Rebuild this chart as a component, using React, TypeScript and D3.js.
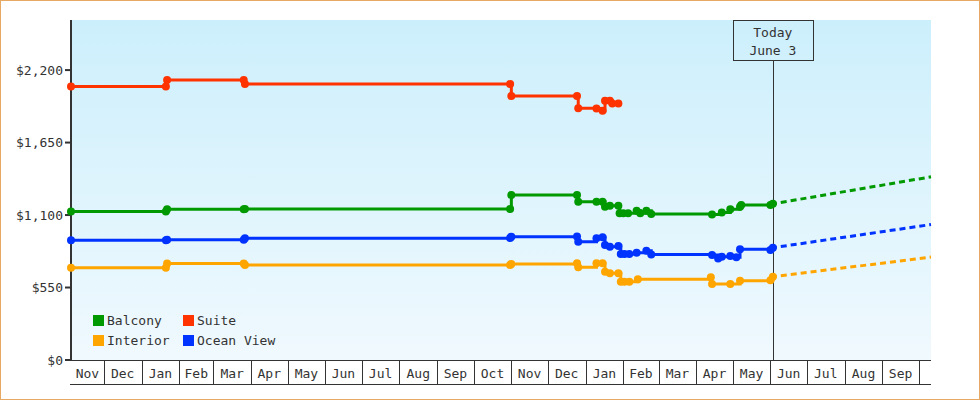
import React from 'react';
import * as d3 from 'd3';

const START = '2022-11-04';
const END = '2024-10-11';
const TODAY = '2024-06-03';
const TODAY_LABEL = ['Today', 'June 3'];
const Y_TICKS = [0, 550, 1100, 1650, 2200];
const Y_MAX = 2580;

const SERIES_NAMES = ['Balcony', 'Suite', 'Interior', 'Ocean View'];
const SERIES_COLORS = ['#009900', '#ff3300', '#ffa500', '#0033ff'];

const suite: [string, number][] = [
  ['2022-11-04', 2075], ['2023-01-21', 2075], ['2023-01-22', 2124], ['2023-03-26', 2124],
  ['2023-03-27', 2094], ['2023-10-31', 2094], ['2023-11-01', 2003], ['2023-12-25', 2003],
  ['2023-12-26', 1910], ['2024-01-10', 1909], ['2024-01-15', 1891], ['2024-01-17', 1967],
  ['2024-01-21', 1967], ['2024-01-23', 1947], ['2024-01-28', 1947],
];

const balcony: [string, number][] = [
  ['2022-11-04', 1127], ['2023-01-21', 1127], ['2023-01-22', 1143], ['2023-03-26', 1143],
  ['2023-03-27', 1145], ['2023-10-31', 1145], ['2023-11-01', 1252], ['2023-12-25', 1252],
  ['2023-12-26', 1201], ['2024-01-10', 1201], ['2024-01-15', 1201], ['2024-01-17', 1163],
  ['2024-01-21', 1171], ['2024-01-28', 1171], ['2024-01-29', 1113], ['2024-02-01', 1113],
  ['2024-02-05', 1113], ['2024-02-12', 1133], ['2024-02-15', 1113], ['2024-02-20', 1133],
  ['2024-02-24', 1108], ['2024-04-14', 1105], ['2024-04-22', 1120], ['2024-04-29', 1143],
  ['2024-05-07', 1163], ['2024-05-08', 1176], ['2024-06-01', 1176], ['2024-06-03', 1185],
];

const interior: [string, number][] = [
  ['2022-11-04', 700], ['2023-01-21', 700], ['2023-01-22', 733], ['2023-03-26', 733],
  ['2023-03-27', 721], ['2023-10-31', 721], ['2023-11-01', 729], ['2023-12-25', 734],
  ['2023-12-26', 703], ['2024-01-10', 734], ['2024-01-15', 734], ['2024-01-17', 670],
  ['2024-01-21', 658], ['2024-01-28', 658], ['2024-01-30', 594], ['2024-02-02', 594],
  ['2024-02-06', 594], ['2024-02-13', 612], ['2024-04-13', 627], ['2024-04-14', 577],
  ['2024-04-29', 577], ['2024-05-07', 602], ['2024-06-01', 606], ['2024-06-03', 632],
];

const oceanView: [string, number][] = [
  ['2022-11-04', 908], ['2023-01-21', 908], ['2023-01-22', 912], ['2023-03-26', 912],
  ['2023-03-27', 923], ['2023-10-31', 925], ['2023-11-01', 936], ['2023-12-25', 938],
  ['2023-12-26', 898], ['2024-01-10', 923], ['2024-01-15', 931], ['2024-01-17', 872],
  ['2024-01-21', 859], ['2024-01-28', 865], ['2024-01-30', 804], ['2024-02-02', 804],
  ['2024-02-06', 804], ['2024-02-12', 814], ['2024-02-20', 829], ['2024-02-24', 800],
  ['2024-04-14', 797], ['2024-04-19', 771], ['2024-04-22', 784], ['2024-04-29', 789],
  ['2024-05-04', 779], ['2024-05-07', 840], ['2024-06-01', 834], ['2024-06-03', 852],
];

// projected value at END for each series (null = no projection)
const PROJECTION_END = [1390, null, 781, 1028];

const SERIES_DATA = [balcony, suite, interior, oceanView];
const DRAW_ORDER = [1, 0, 3, 2];

const W = 980;
const H = 400;
const M = { left: 71, right: 931, top: 20, bottom: 360 };
const FONT = '"DejaVu Sans Mono", monospace';
const TEXT = '#333';

const parse = d3.timeParse('%Y-%m-%d');

export default function App() {
  const start = parse(START)!;
  const end = parse(END)!;
  const today = parse(TODAY)!;
  const x = d3.scaleTime().domain([start, end]).range([M.left, M.right]);
  const y = d3.scaleLinear().domain([0, Y_MAX]).range([M.bottom, M.top]);
  const fmt = d3.format('$,');
  const monthFmt = d3.timeFormat('%b');

  const months = d3.timeMonth.range(d3.timeMonth.floor(start), end);
  const bands = months.map((m) => {
    const a = m < start ? start : m;
    const nxt = d3.timeMonth.offset(m, 1);
    const b = nxt > end ? end : nxt;
    return { m, x0: x(a), x1: x(b) };
  });
  const dividers = months.filter((m) => m > start && m < end);

  const line = d3
    .line<[Date, number]>()
    .x((d) => x(d[0]))
    .y((d) => y(d[1]))
    .curve(d3.curveStepAfter);
  const straight = d3
    .line<[Date, number]>()
    .x((d) => x(d[0]))
    .y((d) => y(d[1]));

  const parsed = SERIES_DATA.map((s) => s.map((d) => [parse(d[0])!, d[1]] as [Date, number]));
  const tx = x(today);

  return (
    <svg width={W} height={H} style={{ display: 'block', position: 'absolute', left: 0, top: 0 }}>
      <style>{'body{margin:0}'}</style>
      <defs>
        <linearGradient id="bg" x1="0" y1="0" x2="0" y2="1">
          <stop offset="0" stopColor="#cceffc" />
          <stop offset="1" stopColor="#f0f9fe" />
        </linearGradient>
      </defs>
      <rect x={0} y={0} width={W} height={H} fill="#fff" />
      <rect x={0.5} y={0.5} width={W - 1} height={H - 1} fill="none" stroke="#e8a865" strokeWidth={1} />
      <rect x={M.left} y={M.top} width={M.right - M.left} height={M.bottom - M.top} fill="url(#bg)" />

      {/* x axis band */}
      <line x1={M.left} x2={M.right} y1={M.bottom + 0.5} y2={M.bottom + 0.5} stroke={TEXT} strokeWidth={1} />
      <line x1={M.left - 1} x2={M.right} y1={384.5} y2={384.5} stroke={TEXT} strokeWidth={1} />
      {dividers.map((m) => (
        <line
          key={+m}
          x1={Math.round(x(m)) + 0.5}
          x2={Math.round(x(m)) + 0.5}
          y1={M.bottom}
          y2={385}
          stroke={TEXT}
          strokeWidth={1}
        />
      ))}
      {bands
        .filter((b) => b.x1 - b.x0 > 20)
        .map((b) => (
          <text
            key={+b.m}
            x={(b.x0 + b.x1) / 2}
            y={378}
            textAnchor="middle"
            fontFamily={FONT}
            fontSize={13}
            fill={TEXT}
          >
            {monthFmt(b.m)}
          </text>
        ))}

      {/* y axis */}
      <line x1={M.left} x2={M.left} y1={M.top} y2={M.bottom + 1} stroke={TEXT} strokeWidth={2} />
      {Y_TICKS.map((t) => (
        <g key={t}>
          <line x1={M.left - 6} x2={M.left} y1={y(t)} y2={y(t)} stroke={TEXT} strokeWidth={2} />
          <text
            x={M.left - 8}
            y={y(t)}
            dy="0.35em"
            textAnchor="end"
            fontFamily={FONT}
            fontSize={13}
            fill={TEXT}
          >
            {fmt(t)}
          </text>
        </g>
      ))}

      {/* today marker */}
      <line x1={Math.round(tx) + 0.5} x2={Math.round(tx) + 0.5} y1={60} y2={M.bottom} stroke={TEXT} strokeWidth={1} />
      <rect x={733.5} y={20.5} width={80} height={40} fill="none" stroke={TEXT} strokeWidth={1} />
      {TODAY_LABEL.map((t, i) => (
        <text
          key={t}
          x={tx}
          y={37 + i * 18}
          textAnchor="middle"
          fontFamily={FONT}
          fontSize={13}
          fill={TEXT}
        >
          {t}
        </text>
      ))}

      {/* projections */}
      {DRAW_ORDER.map((i) => {
        const pe = PROJECTION_END[i];
        if (pe == null) return null;
        const last = parsed[i][parsed[i].length - 1];
        return (
          <path
            key={'p' + i}
            d={straight([last, [end, pe]])!}
            fill="none"
            stroke={SERIES_COLORS[i]}
            strokeWidth={3}
            strokeDasharray="6,4"
            strokeDashoffset={-8}
          />
        );
      })}

      {/* series */}
      {DRAW_ORDER.map((i) => (
        <g key={'s' + i}>
          <path d={line(parsed[i])!} fill="none" stroke={SERIES_COLORS[i]} strokeWidth={3} />
          {parsed[i].map((d, j) => (
            <circle key={j} cx={x(d[0])} cy={y(d[1])} r={4} fill={SERIES_COLORS[i]} />
          ))}
        </g>
      ))}

      {/* legend */}
      {SERIES_NAMES.map((n, i) => {
        const lx = i % 2 === 0 ? 93 : 183;
        const ly = i < 2 ? 315 : 335;
        return (
          <g key={n}>
            <rect x={lx} y={ly} width={11} height={11} fill={SERIES_COLORS[i]} />
            <text x={lx + 14} y={ly + 10} fontFamily={FONT} fontSize={13} fill={TEXT}>
              {n}
            </text>
          </g>
        );
      })}
    </svg>
  );
}
